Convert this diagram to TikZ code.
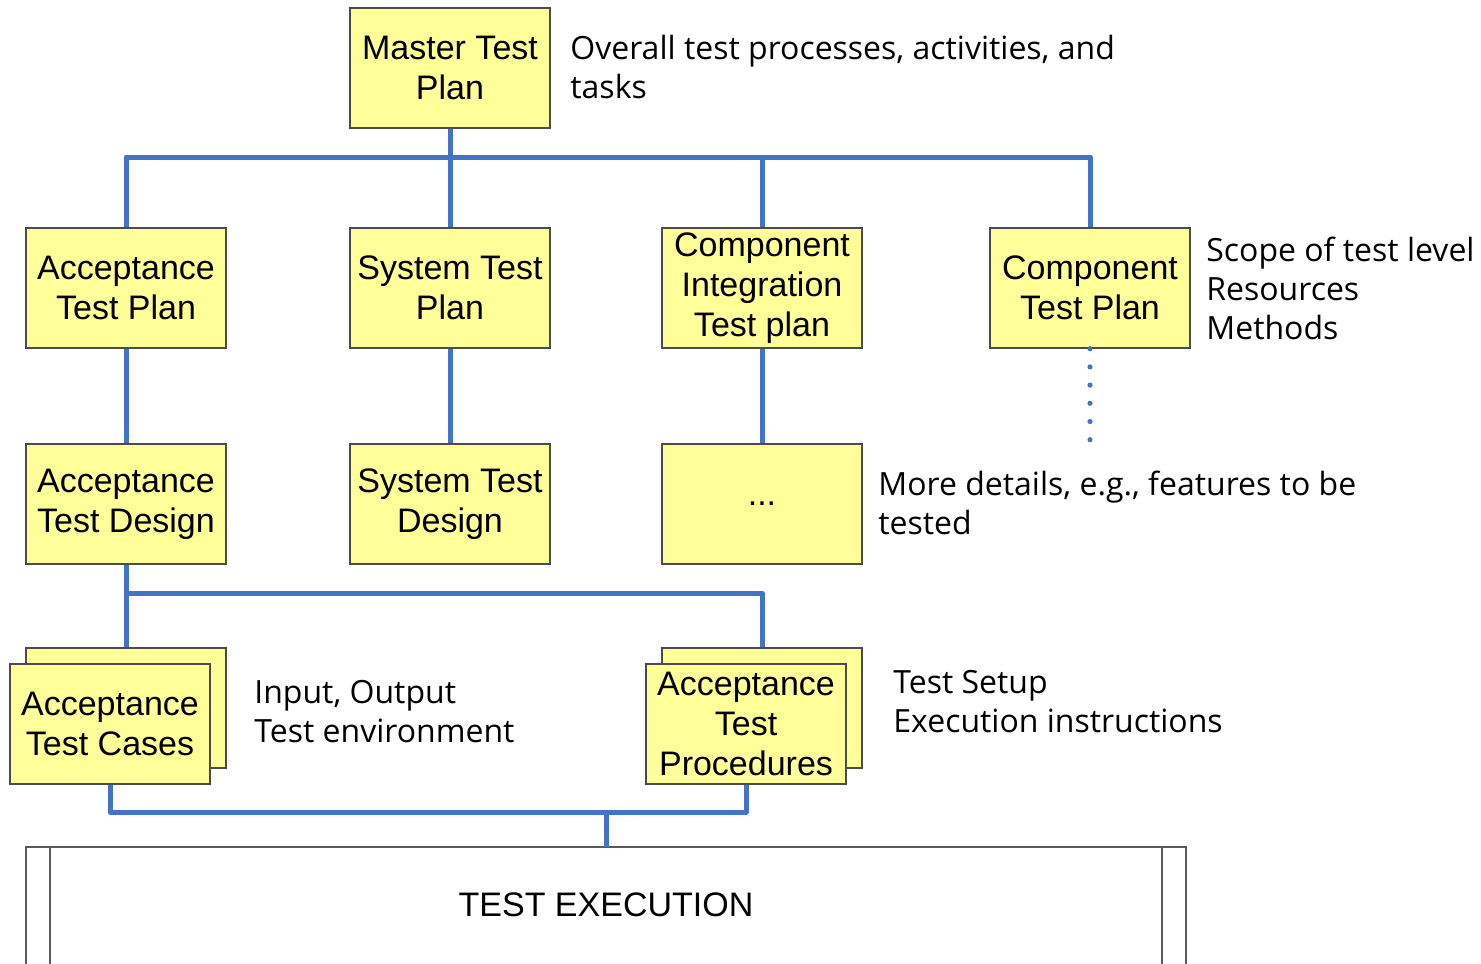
\documentclass[tikz,border=0pt]{standalone}
\usepackage{fontspec}
\setmainfont{Liberation Sans}
\newfontfamily\annfont{Open Sans}
\definecolor{wireblue}{RGB}{68,114,196}
\definecolor{boxfill}{RGB}{255,255,153}
\begin{document}
\begin{tikzpicture}[x=0.5pt,y=-0.5pt,
  box/.style={draw=black!70, line width=0.7pt, fill=boxfill, minimum width=100pt, minimum height=60pt, inner sep=0pt, align=center, font=\fontsize{17}{20}\selectfont},
  wire/.style={draw=wireblue, line width=2.5pt, line join=round},
  dotwire/.style={draw=wireblue, line width=2.6pt, line cap=round, dash pattern=on 0pt off 9.1pt},
  ann/.style={anchor=west, inner sep=0pt, align=left, font=\annfont\fontsize{16}{19.5}\selectfont},
  frame/.style={draw=black!65, line width=0.7pt}]
\useasboundingbox (0,0) rectangle (1481,963);

% boxes
\node[box] (master) at (450,68) {Master Test\\Plan};
\node[box] (atp) at (126,288) {Acceptance\\Test Plan};
\node[box] (stp) at (450,288) {System Test\\Plan};
\node[box] (cit) at (762,288) {Component\\Integration\\Test plan};
\node[box] (ctp) at (1090,288) {Component\\Test Plan};
\node[box] (atd) at (126,504) {Acceptance\\Test Design};
\node[box] (std) at (450,504) {System Test\\Design};
\node[box] (more) at (762,504) {...};
\node[box] (atcB) at (126,708) {};
\node[box] (atcF) at (110,724) {Acceptance\\Test Cases};
\node[box] (atprB) at (762,708) {};
\node[box] (atprF) at (746,724) {Acceptance\\Test\\Procedures};

% annotations
\node[ann] (a1) at (570,67) {Overall test processes, activities, and\\tasks};
\node[ann] (a2) at (1206,288) {Scope of test level\\Resources\\Methods};
\node[ann] (a3) at (878,503) {More details, e.g., features to be\\tested};
\node[ann] (a4) at (254,712) {Input, Output\\Test environment};
\node[ann] (a5) at (893,702) {Test Setup\\Execution instructions};

% test execution
\draw[frame] (26,970) -- (26,847) -- (1186,847) -- (1186,970);
\draw[frame] (50,847) -- (50,970);
\draw[frame] (1162,847) -- (1162,970);
\node[inner sep=0pt, font=\fontsize{17}{20}\selectfont] (exec) at (606,905) {TEST EXECUTION};
\coordinate (execTop) at (606,847);

% connectors
\coordinate (bus) at (450,157);
\draw[wire] (master.south) -- (bus);
\draw[wire] (atp.north) |- (bus) -| (ctp.north);
\draw[wire] (bus) -- (stp.north);
\draw[wire] (cit.north) -- (cit.north |- bus);
\draw[wire] (atp.south) -- (atd.north);
\draw[wire] (stp.south) -- (std.north);
\draw[wire] (cit.south) -- (more.north);
\coordinate (dotEnd) at (1090,441);
\draw[dotwire] (ctp.south) -- (dotEnd);
\coordinate (jd) at (126,593);
\draw[wire] (atd.south) -- (atcB.north);
\draw[wire] (jd) -| (atprB.north);
\coordinate (jn) at (606,812);
\draw[wire] (atcF.south) |- (jn) -| (atprF.south);
\draw[wire] (jn) -- (execTop);
\end{tikzpicture}
\end{document}
